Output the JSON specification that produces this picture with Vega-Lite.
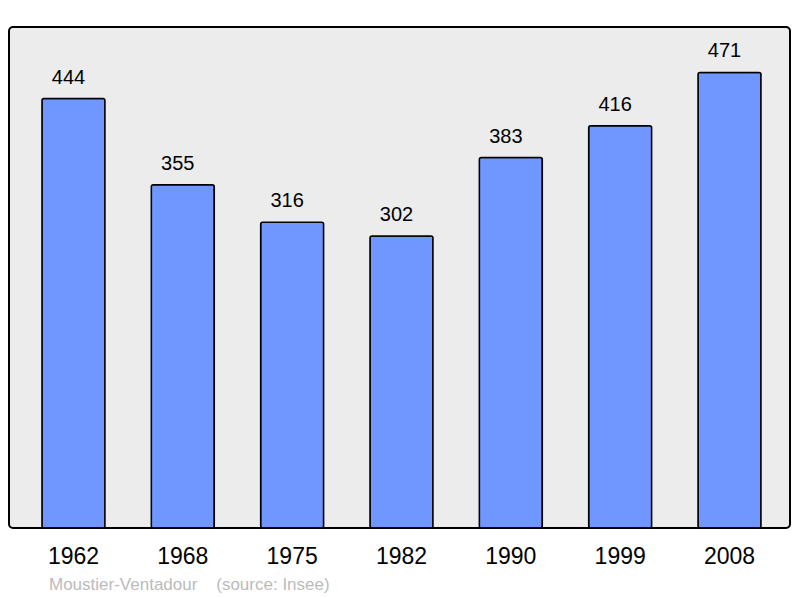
{
  "$schema": "https://vega.github.io/schema/vega-lite/v6.json",
  "width": 781,
  "height": 501,
  "autosize": {"type": "none"},
  "padding": {"left": 9, "top": 27, "right": 10, "bottom": 70},
  "background": "white",
  "config": {
    "view": {"fill": "#ececec", "stroke": "#000000", "strokeWidth": 2, "cornerRadius": 4},
    "font": "Liberation Sans"
  },
  "title": {
    "text": "Moustier-Ventadour\u00a0\u00a0\u00a0\u00a0(source: Insee)",
    "orient": "bottom",
    "anchor": "start",
    "frame": "group",
    "dx": 40,
    "offset": 9,
    "fontSize": 17,
    "fontWeight": "normal",
    "color": "#bbbbbb",
    "font": "Liberation Sans"
  },
  "data": {
    "values": [
      {"year": "1962", "population": 444},
      {"year": "1968", "population": 355},
      {"year": "1975", "population": 316},
      {"year": "1982", "population": 302},
      {"year": "1990", "population": 383},
      {"year": "1999", "population": 416},
      {"year": "2008", "population": 471}
    ]
  },
  "encoding": {
    "x": {
      "field": "year",
      "type": "ordinal",
      "sort": null,
      "scale": {"type": "band", "paddingInner": 0.424, "paddingOuter": 0.2834, "align": 0.532},
      "axis": {
        "title": null,
        "labelAngle": 0,
        "domain": false,
        "ticks": false,
        "grid": false,
        "labelFontSize": 23,
        "labelColor": "#000000",
        "labelBaseline": "alphabetic",
        "labelPadding": 35,
        "labelFont": "Liberation Sans"
      }
    },
    "y": {
      "field": "population",
      "type": "quantitative",
      "scale": {"domain": [0, 518], "nice": false, "zero": true},
      "axis": null
    }
  },
  "layer": [
    {
      "mark": {"type": "bar", "fill": "#7097ff", "stroke": "#000000", "strokeWidth": 1.5, "cornerRadius": 2}
    },
    {
      "mark": {"type": "text", "dy": -15, "dx": -5, "baseline": "alphabetic", "fontSize": 20, "color": "#000000", "font": "Liberation Sans"},
      "encoding": {"text": {"field": "population", "type": "quantitative"}}
    }
  ]
}
